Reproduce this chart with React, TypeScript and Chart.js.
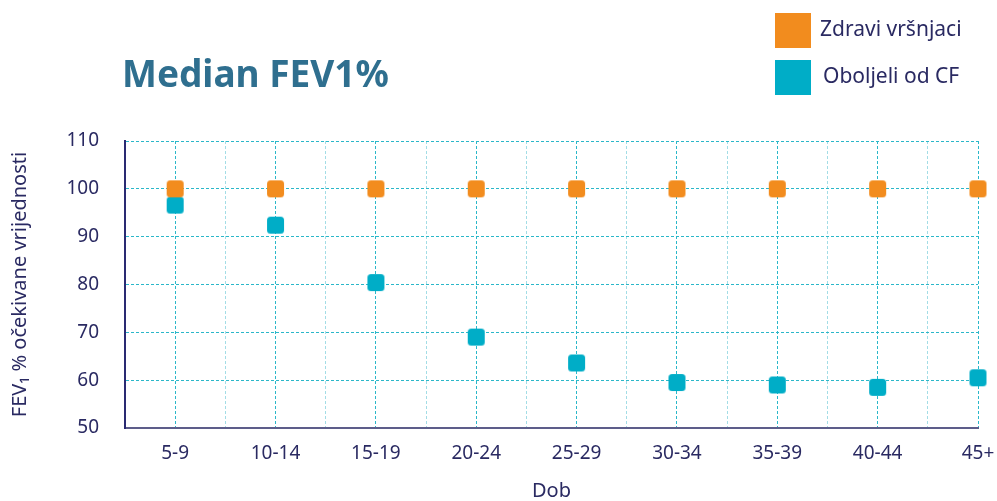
import React, { useEffect, useRef } from "react";
import { Chart, registerables } from "chart.js";

Chart.register(...registerables);

const categories = ["5-9", "10-14", "15-19", "20-24", "25-29", "30-34", "35-39", "40-44", "45+"];
const healthyValues = [100, 100, 100, 100, 100, 100, 100, 100, 100];
const cfValues = [96.6, 92.4, 80.4, 69.0, 63.6, 59.5, 59.0, 58.5, 60.5];
const yTicks = [50, 60, 70, 80, 90, 100, 110];

const TITLE = "Median FEV1%";
const HEALTHY_LABEL = "Zdravi vršnjaci";
const CF_LABEL = "Oboljeli od CF";
const Y_TITLE = "FEV\u2081 % očekivane vrijednosti";
const X_TITLE = "Dob";

const ORANGE = "#f28c1e";
const TEAL = "#00adc7";
const NAVY = "#2a2a62";
const FONT = "'Noto Sans', sans-serif";

function makeMarker(color: string) {
  const c = document.createElement("canvas");
  c.width = 19;
  c.height = 19;
  const g = c.getContext("2d")!;
  g.fillStyle = color;
  g.beginPath();
  if ((g as any).roundRect) (g as any).roundRect(1, 1, 17, 17, 3.5);
  else g.rect(1, 1, 17, 17);
  g.fill();
  return c;
}

export default function App() {
  const ref = useRef<HTMLCanvasElement | null>(null);

  useEffect(() => {
    document.body.style.margin = "0";
    const canvas = ref.current!;
    const chart = new Chart(canvas, {
      type: "scatter",
      data: {
        datasets: [
          {
            label: HEALTHY_LABEL,
            data: healthyValues.map((v, i) => ({ x: i, y: v })),
            pointStyle: makeMarker(ORANGE) as any,
            backgroundColor: ORANGE,
            borderColor: ORANGE,
            showLine: false,
            clip: false,
          },
          {
            label: CF_LABEL,
            data: cfValues.map((v, i) => ({ x: i, y: v })),
            pointStyle: makeMarker(TEAL) as any,
            backgroundColor: TEAL,
            borderColor: TEAL,
            showLine: false,
            clip: false,
          },
        ],
      },
      options: {
        animation: false,
        responsive: false,
        layout: { padding: { top: 141, right: 0, left: 0, bottom: 0 } },
        plugins: {
          legend: { display: false },
          title: { display: false },
          tooltip: { enabled: false },
        },
        scales: {
          x: {
            type: "linear",
            min: -0.5,
            max: categories.length - 1,
            afterFit: (s: any) => {
              s.height = 73;
              s.paddingRight = 19;
              s.paddingLeft = 0;
            },
            afterBuildTicks: (s: any) => {
              const t: any[] = [];
              for (let v = -0.5; v <= categories.length - 1 + 1e-9; v += 0.5) t.push({ value: v });
              s.ticks = t;
            },
            ticks: {
              autoSkip: false,
              maxRotation: 0,
              padding: 14,
              color: NAVY,
              font: { family: FONT, size: 19 },
              callback: (v: any) => (Number.isInteger(v) ? categories[v] : ""),
            },
            grid: {
              drawTicks: false,
              lineWidth: 1,
              color: (ctx: any) => {
                const v = ctx.tick ? ctx.tick.value : 0;
                if (v === -0.5) return "rgba(0,0,0,0)";
                return Number.isInteger(v) ? "#2bb7c9" : "#a3dde6";
              },
            },
            border: { display: true, color: "#5d5d8a", width: 2, dash: [3, 2] },
            title: {
              display: true,
              text: X_TITLE,
              color: NAVY,
              font: { family: FONT, size: 20, lineHeight: 1 },
              padding: { top: 0, bottom: 0 },
            },
          },
          y: {
            type: "linear",
            min: 50,
            max: 110,
            afterFit: (s: any) => {
              s.width = 125;
            },
            afterBuildTicks: (s: any) => {
              s.ticks = yTicks.map((v) => ({ value: v }));
            },
            ticks: {
              padding: 26,
              color: NAVY,
              font: { family: FONT, size: 19 },
            },
            grid: {
              drawTicks: false,
              lineWidth: 1,
              color: (ctx: any) => (ctx.tick && ctx.tick.value === 50 ? "rgba(0,0,0,0)" : "#2bb7c9"),
            },
            border: { display: true, color: "#2a2a72", width: 2, dash: [3, 2] },
            title: {
              display: true,
              text: Y_TITLE,
              color: NAVY,
              font: { family: FONT, size: 20, lineHeight: 1.2 },
              padding: { top: 8, bottom: 0 },
            },
          },
        },
      } as any,
    });
    return () => chart.destroy();
  }, []);

  return (
    <div style={{ position: "relative", width: 997, height: 501, background: "#fff", overflow: "hidden" }}>
      <canvas ref={ref} width={997} height={501} style={{ display: "block" }} />
      <div
        style={{
          position: "absolute",
          left: 122,
          top: 54,
          fontFamily: FONT,
          fontWeight: 700,
          fontSize: 37,
          lineHeight: 1,
          color: "#2f6f8f",
          whiteSpace: "nowrap",
        }}
      >
        {TITLE}
      </div>
      <div style={{ position: "absolute", left: 775, top: 13, width: 36, height: 35, background: ORANGE }} />
      <div style={{ position: "absolute", left: 775, top: 60, width: 36, height: 35, background: TEAL }} />
      <div
        style={{
          position: "absolute",
          left: 820,
          top: 18,
          fontFamily: FONT,
          fontSize: 21,
          lineHeight: 1,
          color: NAVY,
          whiteSpace: "nowrap",
        }}
      >
        {HEALTHY_LABEL}
      </div>
      <div
        style={{
          position: "absolute",
          left: 823,
          top: 65,
          fontFamily: FONT,
          fontSize: 21,
          lineHeight: 1,
          color: NAVY,
          whiteSpace: "nowrap",
        }}
      >
        {CF_LABEL}
      </div>
    </div>
  );
}
